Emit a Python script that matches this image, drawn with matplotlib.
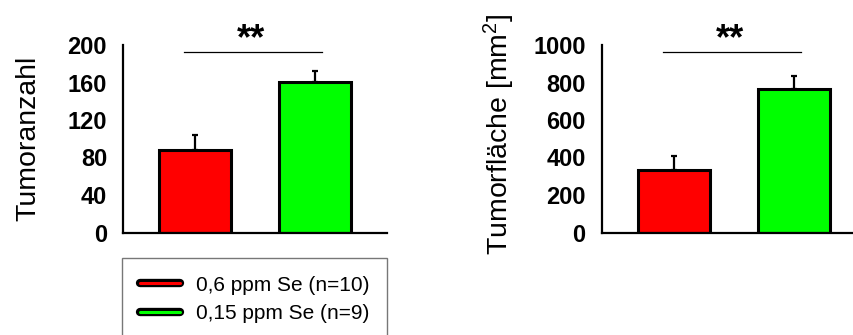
import matplotlib
matplotlib.use("Agg")
import matplotlib.pyplot as plt
from matplotlib.lines import Line2D
import matplotlib.patheffects as pe

plt.rcParams['font.family'] = ['Liberation Sans', 'DejaVu Sans']
plt.rcParams['mathtext.fontset'] = 'custom'
plt.rcParams['mathtext.rm'] = 'Liberation Sans'
plt.rcParams['mathtext.it'] = 'Liberation Sans:italic'
plt.rcParams['mathtext.bf'] = 'Liberation Sans:bold'

# Data
groups = ["0,6 ppm Se (n=10)", "0,15 ppm Se (n=9)"]
colors = ["#FF0000", "#00FF00"]
tumor_count = [88, 161]
tumor_count_err = [16, 11]
tumor_area = [335, 764]
tumor_area_err = [71, 71]
count_ticks = [0, 40, 80, 120, 160, 200]
area_ticks = [0, 200, 400, 600, 800, 1000]
significance = "**"

W, H = 854, 335
fig = plt.figure(figsize=(W / 100, H / 100), dpi=100)

ax_h = 187.5 / H
ax_b = (H - 232.5) / H
ax_w = 264 / W
ax1 = fig.add_axes([123 / W, ax_b, ax_w, ax_h])
ax2 = fig.add_axes([601.7 / W, ax_b, ax_w, ax_h])

x = [1, 2]


def draw_panel(ax, vals, errs, ticks, sig_y, star_y):
    ax.bar(x, vals, width=0.6, color=colors, edgecolor="black",
           linewidth=2.2, zorder=2)
    ax.errorbar(x, vals, yerr=[[0, 0], errs], fmt="none", ecolor="black",
                elinewidth=1.6, capsize=2.5, capthick=1.6, zorder=1)
    ax.set_xlim(0.4, 2.6)
    ax.set_ylim(ticks[0], ticks[-1])
    ax.set_yticks(ticks)
    ax.set_yticklabels([str(t) for t in ticks], fontsize=17, fontweight="bold")
    ax.set_xticks([])
    ax.tick_params(axis="y", length=0, pad=11.5)
    for s in ("top", "right"):
        ax.spines[s].set_visible(False)
    for s in ("left", "bottom"):
        ax.spines[s].set_linewidth(1.6)
    ax.plot([0.91, 2.06], [sig_y, sig_y], color="black", lw=0.9,
            clip_on=False)
    ax.text(1.465, star_y, significance, ha="center", va="baseline",
            fontsize=26, fontweight="bold", clip_on=False)


draw_panel(ax1, tumor_count, tumor_count_err, count_ticks, 192.5, 195.7)
draw_panel(ax2, tumor_area, tumor_area_err, area_ticks, 962.7, 978.6)

fig.text(35 / W, 1 - 138.5 / H, "Tumoranzahl", rotation=90,
         rotation_mode="anchor", ha="center", va="baseline", fontsize=20.5)
fig.text(508 / W, 1 - 134 / H, "Tumorfläche [mm$^2$]", rotation=90,
         rotation_mode="anchor", ha="center", va="baseline", fontsize=20.5)

handles = [
    Line2D([0], [0], color=c, lw=2.2, solid_capstyle="round",
           path_effects=[pe.Stroke(linewidth=6, foreground="black",
                                   capstyle="round"), pe.Normal()])
    for c in colors
]
leg = fig.legend(handles, groups, loc="upper left",
                 bbox_to_anchor=(122 / W, 1 - 258 / H),
                 bbox_transform=fig.transFigure, borderaxespad=0,
                 fontsize=15, frameon=True, fancybox=False,
                 handlelength=1.95, handletextpad=0.75, borderpad=0.85,
                 labelspacing=0.45)
leg.get_frame().set_edgecolor("#555555")
leg.get_frame().set_linewidth(1.0)

fig.savefig("out.png", dpi=100)
